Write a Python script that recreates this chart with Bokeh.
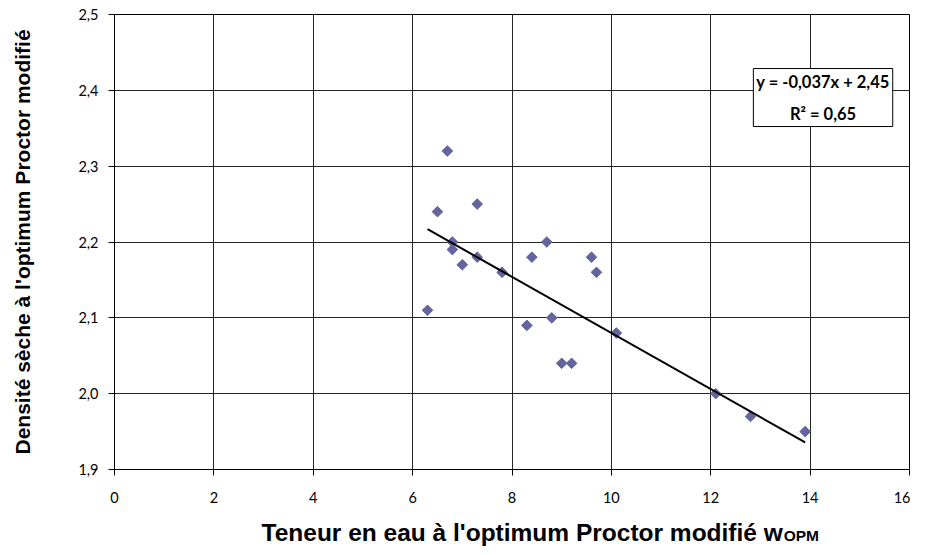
import numpy as np
from bokeh.plotting import figure
from bokeh.layouts import column
from bokeh.models import Label, FixedTicker, CustomJSTickFormatter, Range1d
from bokeh.embed import file_html
from bokeh.resources import INLINE

# data
w_opm = [6.3, 6.5, 6.7, 6.8, 6.8, 7.0, 7.3, 7.3, 7.8, 8.3, 8.4, 8.7, 8.8, 9.0, 9.2, 9.6, 9.7, 10.1, 12.1, 12.8, 13.9]
densite = [2.11, 2.24, 2.32, 2.20, 2.19, 2.17, 2.25, 2.18, 2.16, 2.09, 2.18, 2.20, 2.10, 2.04, 2.04, 2.18, 2.16, 2.08, 2.00, 1.97, 1.95]
trend_slope = -0.037
trend_intercept = 2.45
x_ticks = [0, 2, 4, 6, 8, 10, 12, 14, 16]
y_ticks = [1.9, 2.0, 2.1, 2.2, 2.3, 2.4, 2.5]
equation_text = "y = -0,037x + 2,45\nR\u00b2 = 0,65"
x_title = "Teneur en eau \u00e0 l'optimum Proctor modifi\u00e9 w"
x_title_sub = "OPM"
y_title = "Densit\u00e9 s\u00e8che \u00e0 l'optimum Proctor modifi\u00e9"

W = 910
p = figure(width=W, height=506, output_backend="svg", toolbar_location=None,
           x_range=Range1d(0, 16), y_range=Range1d(1.9, 2.5))
p.min_border_left = 114
p.min_border_right = 1
p.min_border_top = 14
p.min_border_bottom = 37
p.background_fill_color = "white"
p.border_fill_color = "white"
p.outline_line_color = "black"
p.outline_line_width = 1

p.xaxis.ticker = FixedTicker(ticks=x_ticks)
p.yaxis.ticker = FixedTicker(ticks=y_ticks)
p.yaxis.formatter = CustomJSTickFormatter(code="return tick.toFixed(1).replace('.', ',');")
for ax in (p.xaxis[0], p.yaxis[0]):
    ax.axis_line_color = "black"
    ax.major_tick_line_color = "black"
    ax.minor_tick_line_color = None
    ax.major_tick_in = 0
    ax.major_tick_out = 6
    ax.major_label_text_font = "Lato"
    ax.major_label_text_font_size = "14.5px"
    ax.major_label_text_color = "black"
p.xaxis.major_label_standoff = 16
p.yaxis.major_label_standoff = 10

p.yaxis.axis_label = y_title
p.yaxis.axis_label_text_font = "Liberation Sans"
p.yaxis.axis_label_text_font_style = "bold"
p.yaxis.axis_label_text_font_size = "21px"
p.yaxis.axis_label_text_color = "black"
p.yaxis.axis_label_standoff = 41

p.grid.grid_line_color = "black"
p.grid.grid_line_alpha = 0.85
p.grid.grid_line_width = 1

p.scatter(w_opm, densite, marker="square", angle=np.pi / 4, size=7.5,
          fill_color="#64649e", line_color="#64649e")

xs = np.array([min(w_opm), max(w_opm)])
p.line(xs, trend_slope * xs + trend_intercept, line_color="black", line_width=2)

eq = Label(x=14.26, y=2.3905, text=equation_text, text_align="center", text_baseline="middle",
           text_font="Lato", text_font_style="bold", text_font_size="16.5px",
           text_color="black", background_fill_color="white", border_line_color="black",
           border_line_width=1, padding=3, text_line_height=1.6)
p.add_layout(eq)

# x-axis title with subscript, drawn in a strip below the chart
q = figure(width=W, height=41, output_backend="svg", toolbar_location=None,
           x_range=Range1d(0, W), y_range=Range1d(0, 41),
           x_axis_location=None, y_axis_location=None)
q.min_border = 0
q.min_border_left = q.min_border_right = q.min_border_top = q.min_border_bottom = 0
q.outline_line_color = None
q.grid.visible = False
q.background_fill_color = "white"
q.border_fill_color = "white"
t1 = Label(x=765, y=15, text=x_title, text_align="right",
           text_baseline="alphabetic", text_font="Liberation Sans",
           text_font_style="bold", text_font_size="24.5px", text_color="black")
t2 = Label(x=766, y=12, text=x_title_sub, text_align="left",
           text_baseline="alphabetic", text_font="Liberation Sans",
           text_font_style="bold", text_font_size="15.5px", text_color="black")
q.add_layout(t1)
q.add_layout(t2)

layout = column(p, q, spacing=0)
open("out.html", "w").write(file_html(layout, INLINE))
